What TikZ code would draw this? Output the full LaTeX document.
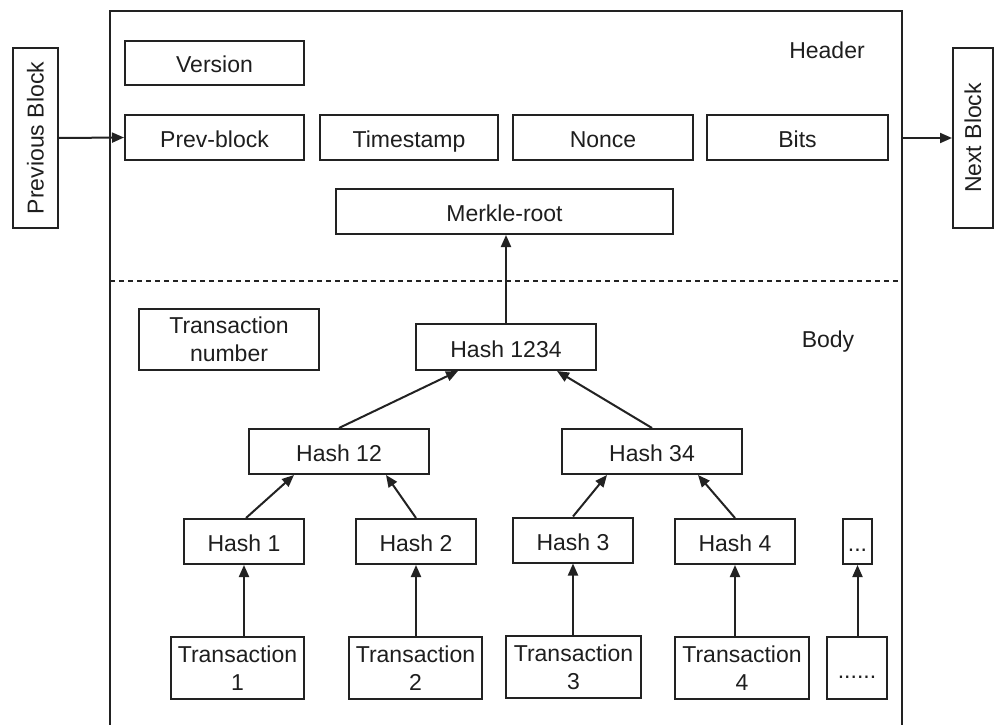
\documentclass[tikz,border=0pt]{standalone}
\usepackage{fontspec}
\setmainfont{Liberation Sans}
\usetikzlibrary{arrows.meta}
\definecolor{linec}{HTML}{222222}
\definecolor{textc}{HTML}{1E1E1E}
\begin{document}
\begin{tikzpicture}[x=1pt,y=-1pt,
  box/.style={draw=linec, line width=2pt, inner sep=0pt, font=\fontsize{23}{28}\selectfont, text=textc, align=center},
  one/.style={text height=20pt, text depth=0pt},
  lbl/.style={inner sep=0pt, font=\fontsize{23}{28}\selectfont, text=textc},
  arr/.style={draw=linec, line width=2pt, -{Triangle[length=12pt,width=10pt]}}]
\useasboundingbox (0,0) rectangle (996,725);
% frame
\draw[linec, line width=2pt] (110,730) -- (110,11) -- (902,11) -- (902,730);
\draw[linec, line width=1.6pt, dash pattern=on 5pt off 4pt] (110,281) -- (902,281);
% side blocks
\node[box, minimum width=45pt, minimum height=180pt] (prevB) at (35.5,138) {\rotatebox{90}{Previous Block}};
\node[box, minimum width=40pt, minimum height=180pt] (nextB) at (973,138) {\rotatebox{90}{Next Block}};
% header
\node[lbl] (header) at (827,50) {Header};
\node[box, one, minimum width=179pt, minimum height=44pt] (version) at (214.5,63) {Version};
\node[box, one, minimum width=179pt, minimum height=45pt] (prevblock) at (214.5,137.5) {Prev-block};
\node[box, one, minimum width=178pt, minimum height=45pt] (timestamp) at (409,137.5) {Timestamp};
\node[box, one, minimum width=180pt, minimum height=45pt] (nonce) at (603,137.5) {Nonce};
\node[box, one, minimum width=181pt, minimum height=45pt] (bits) at (797.5,137.5) {Bits};
\node[box, one, minimum width=337pt, minimum height=45pt] (merkle) at (504.5,211.5) {Merkle-root};
% body
\node[lbl] (body) at (828,342) {Body};
\node[box, minimum width=180pt, minimum height=61pt] (txnum) at (229,339.5) {Transaction\\number};
\node[box, one, minimum width=180pt, minimum height=46pt] (h1234) at (506,347) {Hash 1234};
\node[box, one, minimum width=180pt, minimum height=45pt] (h12) at (339,451.5) {Hash 12};
\node[box, one, minimum width=180pt, minimum height=45pt] (h34) at (652,451.5) {Hash 34};
\node[box, one, minimum width=120pt, minimum height=45pt] (h1) at (244,541.5) {Hash 1};
\node[box, one, minimum width=120pt, minimum height=45pt] (h2) at (416,541.5) {Hash 2};
\node[box, one, minimum width=120pt, minimum height=45pt] (h3) at (573,540) {Hash 3};
\node[box, one, minimum width=120pt, minimum height=45pt] (h4) at (735,541.5) {Hash 4};
\node[box, one, minimum width=29pt, minimum height=45pt] (hd) at (857.5,541.5) {...};
\node[box, minimum width=133pt, minimum height=62pt] (t1) at (237.5,668) {Transaction\\1};
\node[box, minimum width=133pt, minimum height=62pt] (t2) at (415.5,668) {Transaction\\2};
\node[box, minimum width=135pt, minimum height=62pt] (t3) at (573.5,667) {Transaction\\3};
\node[box, minimum width=134pt, minimum height=62pt] (t4) at (742,668) {Transaction\\4};
\node[box, one, minimum width=60pt, minimum height=62pt] (td) at (857,668) {......};
% connectors
\coordinate (frR) at (902,138);
\draw[arr] (prevB.east) -- (prevblock.west);
\draw[arr] (frR) -- (nextB.west);
\draw[arr] (h1234.north) -- (merkle.south -| h1234.north);
\draw[arr] (h12.north) -- ([xshift=-48pt]h1234.south);
\draw[arr] (h34.north) -- ([xshift=51pt]h1234.south);
\draw[arr] ([xshift=2pt]h1.north) -- ([xshift=-45pt]h12.south);
\draw[arr] (h2.north) -- ([xshift=47pt]h12.south);
\draw[arr] (h3.north) -- ([xshift=-45pt]h34.south);
\draw[arr] (h4.north) -- ([xshift=46pt]h34.south);
\draw[arr] (t1.north -| h1.north) -- (h1.south);
\draw[arr] (t2.north -| h2.north) -- (h2.south);
\draw[arr] (t3.north -| h3.north) -- (h3.south);
\draw[arr] (t4.north -| h4.north) -- (h4.south);
\draw[arr] (td.north -| hd.north) -- (hd.south);
\end{tikzpicture}
\end{document}
